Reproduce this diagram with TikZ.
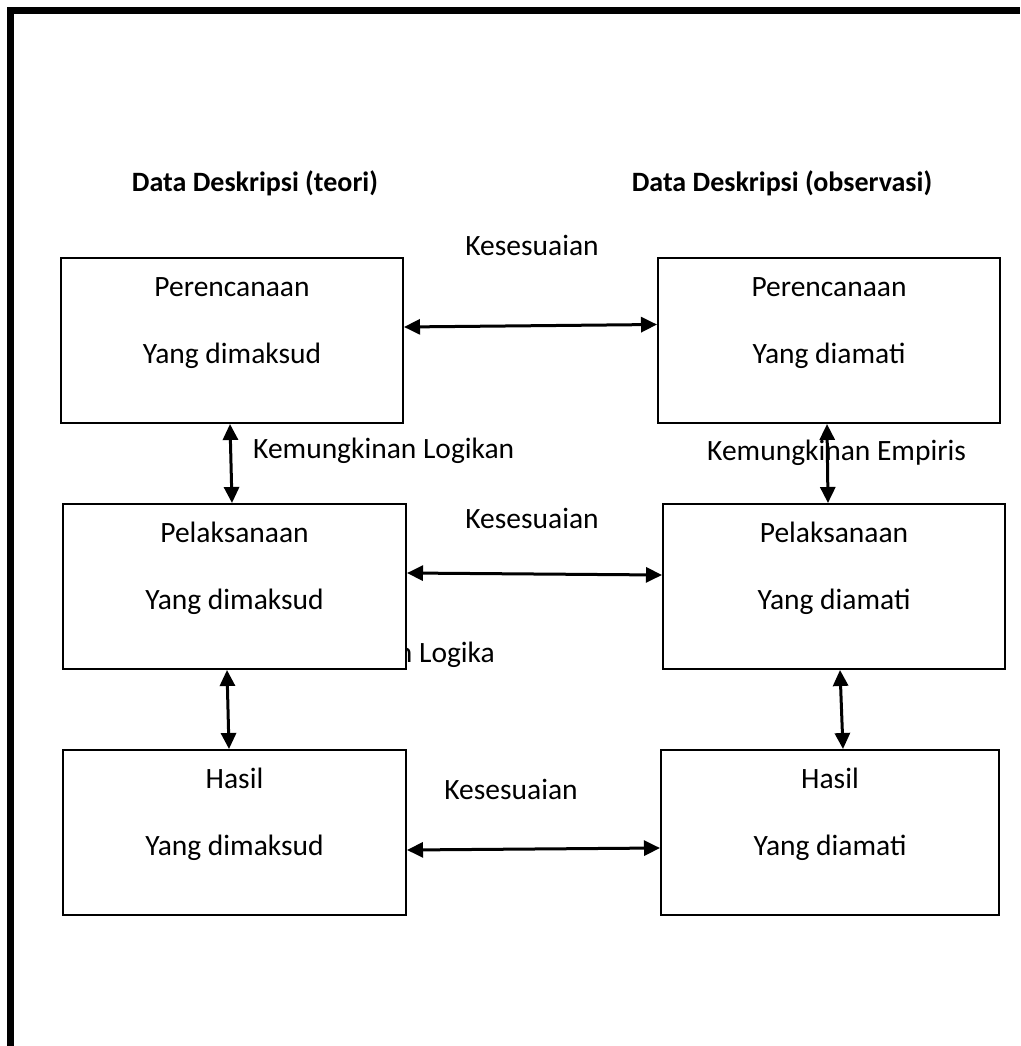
\documentclass[tikz,border=0pt]{standalone}
\usepackage{fontspec}
\setmainfont{Carlito}
\usetikzlibrary{arrows.meta}
\begin{document}
\begin{tikzpicture}[x=1pt, y=-1pt,
  box/.style={draw, line width=2pt, fill=white, rectangle, inner sep=0pt,
              minimum width=#1, minimum height=165pt},
  box/.default=342pt,
  txt/.style={inner sep=0pt, anchor=base, font=\fontsize{29.5}{35}\selectfont},
  head/.style={txt, font=\fontsize{28}{34}\selectfont\bfseries},
  link/.style={line width=3pt, {Triangle[length=16pt,width=15pt]}-{Triangle[length=16pt,width=15pt]}}
]
\useasboundingbox (0,0) rectangle (1020,1046);

% frame along the left and top edges
\draw[line width=7pt, line join=miter] (10.5,1046) -- (10.5,10.5) -- (1020,10.5);

% column headings
\node[head] (hl) at (255,191) {Data Deskripsi (teori)};
\node[head] (hr) at (782,191) {Data Deskripsi (observasi)};

% label partly covered by the middle left box
\node[txt, anchor=base east] (klg) at (495,662) {Kemungkinan Logika};

% boxes
\node[box] (p1) at (232,340.5) {};
\node[box] (p2) at (829,340.5) {};
\node[box=343pt] (l1) at (234.5,586.5) {};
\node[box] (l2) at (834,586.5) {};
\node[box=343pt] (h1) at (234.5,832.5) {};
\node[box=338pt] (h2) at (830,832.5) {};

% box texts
\node[txt] (p1a) at (232,296) {Perencanaan};
\node[txt] (p1b) at (232,363) {Yang dimaksud};
\node[txt] (p2a) at (829,296) {Perencanaan};
\node[txt] (p2b) at (829,363) {Yang diamati};
\node[txt] (l1a) at (234.5,542) {Pelaksanaan};
\node[txt] (l1b) at (234.5,609) {Yang dimaksud};
\node[txt] (l2a) at (834,542) {Pelaksanaan};
\node[txt] (l2b) at (834,609) {Yang diamati};
\node[txt] (h1a) at (234.5,788) {Hasil};
\node[txt] (h1b) at (234.5,855) {Yang dimaksud};
\node[txt] (h2a) at (830,788) {Hasil};
\node[txt] (h2b) at (830,855) {Yang diamati};

% relation labels
\node[txt] (k1) at (532,255) {Kesesuaian};
\node[txt] (k2) at (532,528) {Kesesuaian};
\node[txt] (k3) at (511,799) {Kesesuaian};
\node[txt, anchor=base west] (kl) at (253,458) {Kemungkinan Logikan};
\node[txt, anchor=base west] (ke) at (707,460) {Kemungkinan Empiris};

% horizontal links
\draw[link] ([yshift=13.5pt]p1.east) -- ([yshift=16pt]p2.west);
\draw[link] ([yshift=13.5pt]l1.east) -- ([yshift=11.5pt]l2.west);
\draw[link] ([yshift=-17.5pt]h1.east) -- ([yshift=-15.5pt]h2.west);

% vertical links
\draw[link] ([xshift=-2pt]p1.south) -- ([xshift=-2.5pt]l1.north);
\draw[link] ([xshift=-2pt]p2.south) -- ([xshift=-6pt]l2.north);
\draw[link] ([xshift=-7.5pt]l1.south) -- ([xshift=-5.5pt]h1.north);
\draw[link] ([xshift=6pt]l2.south) -- ([xshift=13pt]h2.north);
\end{tikzpicture}
\end{document}
